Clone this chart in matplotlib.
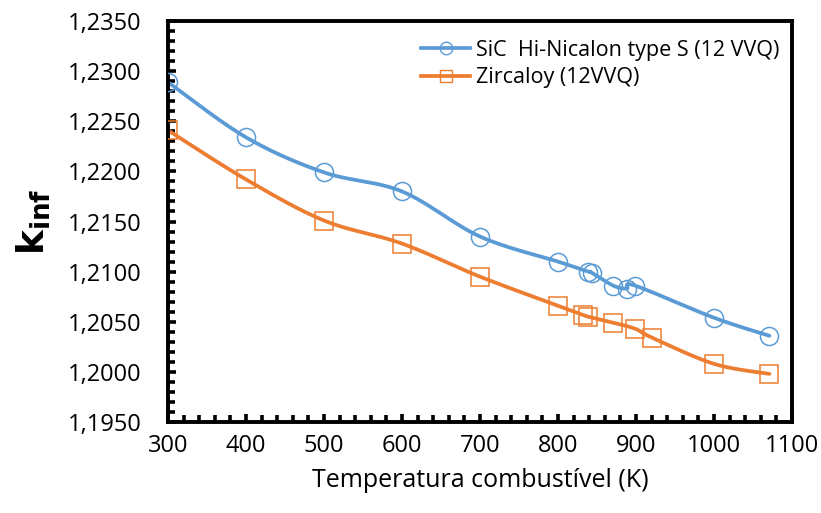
import numpy as np
import matplotlib
matplotlib.use("Agg")
import matplotlib.pyplot as plt
from matplotlib.ticker import MultipleLocator, FuncFormatter
from matplotlib.lines import Line2D

# Data
sic_T = [300, 400, 500, 600, 700, 800, 839, 843, 871, 888, 899, 1000, 1071]
sic_k = [1.2289, 1.2234, 1.2199, 1.2180, 1.2135, 1.2110, 1.2100, 1.2099,
         1.2086, 1.2083, 1.2086, 1.2054, 1.2036]
zr_T = [300, 400, 500, 600, 700, 800, 832, 839, 871, 899, 921, 1000, 1071]
zr_k = [1.2241, 1.2192, 1.2151, 1.2128, 1.2095, 1.2066, 1.2057, 1.2055,
        1.2049, 1.2043, 1.2034, 1.2008, 1.1998]
series_labels = ["SiC  Hi-Nicalon type S (12 VVQ)", "Zircaloy (12VVQ)"]
x_label = "Temperatura combustível (K)"

blue = "#5B9BD5"
orange = "#ED7D31"

plt.rcParams['font.family'] = ['Open Sans', 'DejaVu Sans']


def smooth(xs, ys, n=30):
    """Excel-like smoothed line: Bezier segments with Catmull-Rom control points."""
    P = np.column_stack([xs, ys]).astype(float)
    out = []
    m = len(P)
    t = np.linspace(0, 1, n)[:, None]
    for i in range(m - 1):
        p0 = P[i - 1] if i > 0 else P[i]
        p1 = P[i]
        p2 = P[i + 1]
        p3 = P[i + 2] if i + 2 < m else P[i + 1]
        c1 = p1 + (p2 - p0) / 6.0
        c2 = p2 - (p3 - p1) / 6.0
        seg = ((1 - t) ** 3) * p1 + 3 * ((1 - t) ** 2) * t * c1 + 3 * (1 - t) * t ** 2 * c2 + t ** 3 * p2
        out.append(seg if i == 0 else seg[1:])
    s = np.vstack(out)
    return s[:, 0], s[:, 1]


fig = plt.figure(figsize=(8.21, 5.13), dpi=100)
ax = fig.add_axes([0.2046, 0.1774, 0.7601, 0.7816])

for T, k, c, mk in [(sic_T, sic_k, blue, 'o'), (zr_T, zr_k, orange, 's')]:
    sx, sy = smooth(T, k)
    ax.plot(sx, sy, color=c, lw=2.7, solid_capstyle='round', zorder=2)
    ax.plot(T, k, ls='none', marker=mk, ms=13, mfc='none',
            mec=c, mew=1.1, zorder=3)

ax.set_xlim(300, 1100)
ax.set_ylim(1.1950, 1.2350)
ax.xaxis.set_major_locator(MultipleLocator(100))
ax.xaxis.set_minor_locator(MultipleLocator(20))
ax.yaxis.set_major_locator(MultipleLocator(0.005))
ax.yaxis.set_minor_locator(MultipleLocator(0.001))
ax.yaxis.set_major_formatter(FuncFormatter(lambda v, p: f"{v:.4f}".replace('.', ',')))

for s in ax.spines.values():
    s.set_linewidth(2.8)
    s.set_color('black')

ax.tick_params(axis='both', which='both', direction='in', top=False, right=False,
               width=2.6, color='black')
ax.tick_params(axis='both', which='major', length=6, labelsize=17, pad=9)
ax.tick_params(axis='both', which='minor', length=5)
ax.tick_params(axis='y', which='major', pad=19)

ax.set_xlabel(x_label, fontsize=18, labelpad=7)
ax.set_ylabel(r"$\mathbf{k}_{\mathbf{inf}}$", fontsize=27, labelpad=10)

handles = [Line2D([], [], color=blue, lw=2.7, marker='o', ms=9, mfc='none', mec=blue, mew=1.0),
           Line2D([], [], color=orange, lw=2.7, marker='s', ms=9, mfc='none', mec=orange, mew=1.0)]
ax.legend(handles, series_labels, loc='upper right', bbox_to_anchor=(1.0, 0.985),
          frameon=False, fontsize=15.5, handlelength=2.3, handletextpad=0.25,
          labelspacing=0.3, borderaxespad=0.2)

fig.savefig("out.png", dpi=100, facecolor='white')
